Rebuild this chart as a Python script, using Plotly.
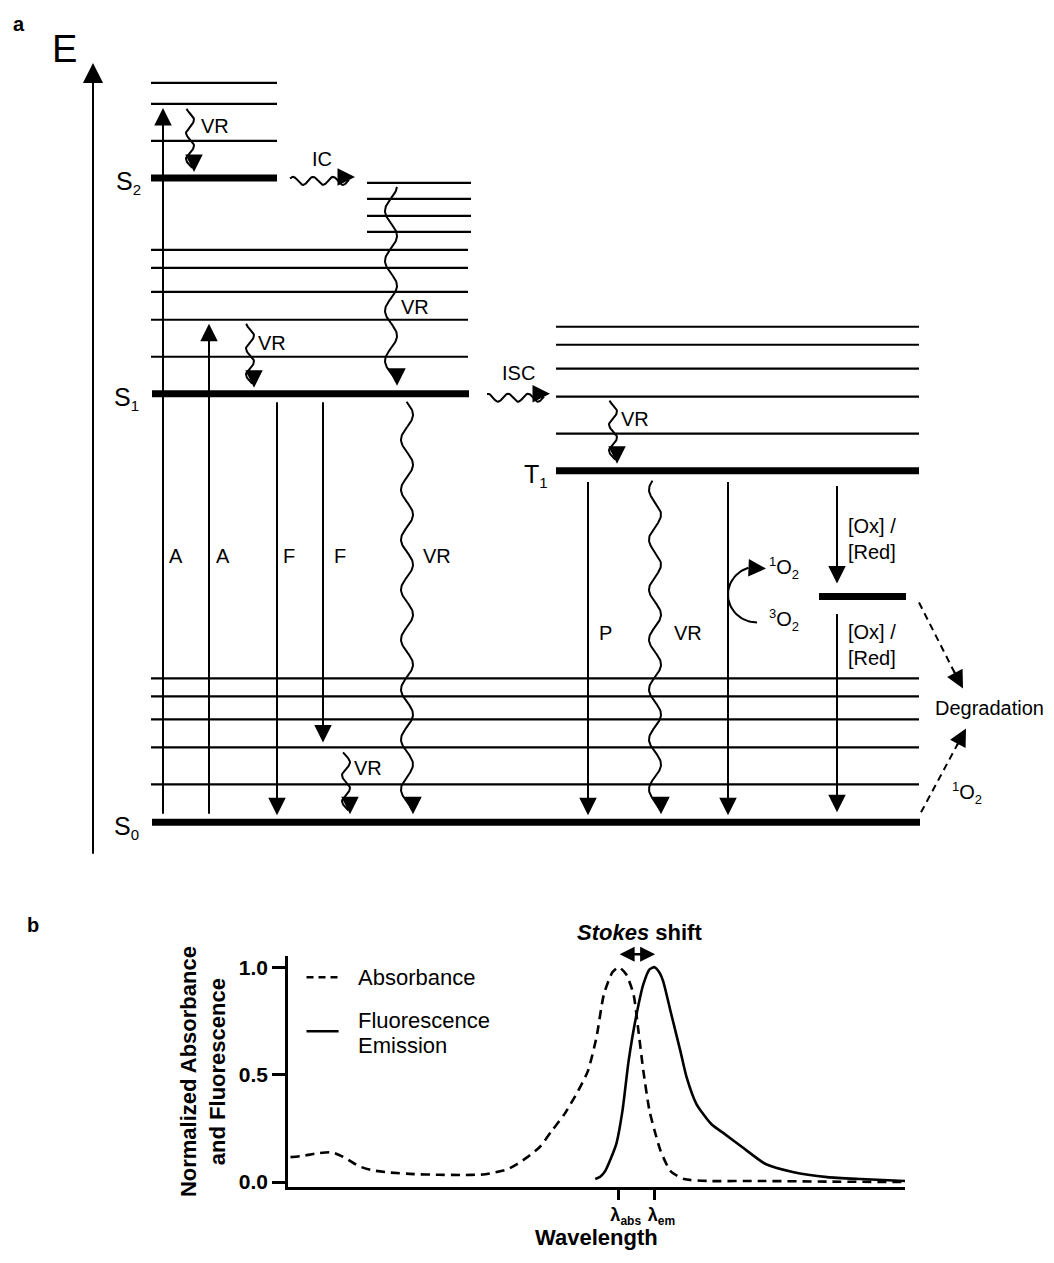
import numpy as np
import plotly.graph_objects as go

FONT = "Liberation Sans, Arial, Helvetica, sans-serif"

# ---------------- Panel a: energy levels (arbitrary energy units, S0 = 0) ----------------
state_labels = ["S", "S", "S", "T"]
state_sub = ["0", "1", "2", "1"]
state_E = [0.0, 42.9, 64.5, 35.2]
S0_vib = [3.8, 7.5, 10.3, 12.6, 14.4]
S1_vib = [46.6, 50.3, 53.1, 55.5, 57.3]
S1_hot = [59.1, 60.7, 62.4, 64.0]
S2_vib = [68.2, 71.9, 74.0]
T1_vib = [38.9, 42.6, 45.4, 47.8, 49.6]
product_E = 22.6

# ---------------- Panel b: normalized spectra ----------------
abs_wl = [252, 262, 272, 286, 297, 307, 318, 331, 352, 372, 390, 408, 418, 428, 436,
          444, 454, 464, 474, 485, 493, 500, 506, 513, 518, 524, 530, 534, 538, 543,
          548, 552, 560, 571, 590, 632, 687, 750]
abs_val = [0.116, 0.122, 0.132, 0.138, 0.11, 0.075, 0.055, 0.045, 0.037, 0.034, 0.033,
           0.035, 0.045, 0.06, 0.085, 0.116, 0.163, 0.24, 0.316, 0.423, 0.516, 0.674,
           0.874, 0.977, 1.0, 0.967, 0.874, 0.702, 0.516, 0.33, 0.22, 0.144, 0.051,
           0.014, 0.005, 0.005, 0.002, 0.0]
fl_wl = [499, 503, 507, 516, 521, 526, 532, 538, 543, 547, 551, 554, 560, 568, 573,
         581, 593, 604, 618, 637, 659, 687, 714, 750]
fl_val = [0.014, 0.025, 0.051, 0.177, 0.33, 0.563, 0.767, 0.921, 0.99, 1.0, 0.975,
          0.935, 0.795, 0.609, 0.488, 0.363, 0.27, 0.223, 0.163, 0.084, 0.047, 0.023,
          0.014, 0.005]
lambda_ticks = [518, 547]
lambda_text = ['λ<sub><span style="font-size:12px">abs</span></sub>',
               'λ<sub><span style="font-size:12px">em</span></sub>']
ytick_vals = [0.0, 0.5, 1.0]
ytick_text = ["0.0", "0.5", "1.0"]

# ---------------- layout geometry ----------------
PAGE_W, PAGE_H = 1054, 1263
OFF = 8                                  # default page margin around the figure
W, H = PAGE_W - 2 * OFF, PAGE_H - 2 * OFF
KY = 1269 / 1263                          # vertical compensation of the page capture
A_BOTTOM = 880                           # picture y where panel a area ends
PX_PER_E = 10
S0_PY = 822                              # target y of the S0 level
B_UP = 6                                 # lift of panel b to leave room for the x title


def ey(py):                 # target picture y -> energy units
    return (S0_PY - py) / PX_PER_E


E_TOP = (S0_PY - OFF / KY) / PX_PER_E
E_BOT = (S0_PY - A_BOTTOM / KY) / PX_PER_E


def fy(py):                 # target picture y -> paper fraction
    return 1 - (py * KY - OFF) / H


def fx(px):                 # picture x -> paper fraction
    return (px - OFF) / W


COL_S0 = (151, 919)
COL_S1 = (151, 468)
COL_S2 = (151, 277)
COL_HOT = (367, 471)
COL_T1 = (556, 919)
COL_P = (819, 906)

fig = go.Figure()
annotations = []
HEAD, HEADSIZE = 2, 1.75


def levels(col, energies, width):
    xs, ys = [], []
    for e in energies:
        xs += [col[0], col[1], None]
        ys += [e, e, None]
    fig.add_trace(go.Scatter(x=xs, y=ys, mode="lines", line=dict(color="black", width=width),
                             showlegend=False, hoverinfo="skip", xaxis="x", yaxis="y"))


def arrow(x0, e0, x1, e1, width=2, size=HEADSIZE, head=HEAD):
    annotations.append(dict(x=x1, y=e1, ax=x0, ay=e0, xref="x", yref="y", axref="x", ayref="y",
                            text="", showarrow=True, arrowhead=head, arrowsize=size,
                            arrowwidth=width, arrowcolor="black", standoff=0, startstandoff=0))


def line(xs, es, width=2, dash=None):
    fig.add_trace(go.Scatter(x=list(xs), y=list(es), mode="lines",
                             line=dict(color="black", width=width, dash=dash),
                             showlegend=False, hoverinfo="skip", xaxis="x", yaxis="y"))


def wavy_v(x0, e0, e1, amp=6, period=50):
    L = abs(e1 - e0) * PX_PER_E
    t = np.linspace(0, L, max(int(L), 30))
    phase = np.pi / 2 - 2 * np.pi * L / period
    xs = x0 + amp * np.sin(2 * np.pi * t / period + phase)
    es = e0 + (e1 - e0) * t / L
    line(xs[:-4], es[:-4])
    sgn = 1 if e1 < e0 else -1
    arrow(xs[-1], es[-1] + sgn * 1.6, xs[-1], es[-1])


def wavy_h(x0, x1, e, amp=4, period=20):
    L = abs(x1 - x0)
    t = np.linspace(0, L, max(int(L), 30))
    phase = np.pi / 2 - 2 * np.pi * L / period
    xs = x0 + t
    es = e + (amp / PX_PER_E) * np.sin(2 * np.pi * t / period + phase)
    line(xs[:-4], es[:-4])
    arrow(xs[-1] - 16, es[-1], xs[-1] + 2, es[-1])


def label(x, py, text, size=20, xanchor="center", align="center"):
    annotations.append(dict(x=x, y=ey(py), xref="x", yref="y", text=text, showarrow=False,
                            font=dict(size=size, color="black", family=FONT),
                            xanchor=xanchor, yanchor="middle", align=align))


def small(t, size=13):
    return '<span style="font-size:%dpx">%s</span>' % (size, t)


O2_1 = "<sup>" + small("1") + "</sup>O<sub>" + small("2") + "</sub>"
O2_3 = "<sup>" + small("3") + "</sup>O<sub>" + small("2") + "</sub>"

S0, S1, S2, T1 = state_E

# vibrational (thin) and electronic (thick) levels
levels(COL_S0, S0_vib, 2.2)
levels(COL_S1, S1_vib, 2.2)
levels(COL_HOT, S1_hot, 2.2)
levels(COL_S2, S2_vib, 2.2)
levels(COL_T1, T1_vib, 2.2)
levels((COL_S0[0] + 1, COL_S0[1] + 1), [S0], 7)
levels((COL_S1[0] + 1, COL_S1[1] + 1), [S1], 7)
levels(COL_S2, [S2], 7)
levels(COL_T1, [T1], 7)
levels(COL_P, [product_E], 7)

# energy axis
arrow(93, ey(855), 93, ey(62), width=2, size=HEADSIZE * 1.15)

# absorption
arrow(163, S0 + 0.7, 163, S2_vib[1] - 0.4)
arrow(209, S0 + 0.7, 209, S1_vib[1] - 0.4)
# fluorescence
arrow(277, S1 - 0.7, 277, S0 + 0.7)
arrow(323, S1 - 0.7, 323, S0_vib[1] + 0.5)
# phosphorescence and O2 sensitisation
arrow(588, T1 - 1.0, 588, S0 + 0.7)
arrow(728, T1 - 1.0, 728, S0 + 0.7)
# redox
arrow(837, T1 - 1.4, 837, product_E + 1.3)
arrow(837, product_E - 1.6, 837, S0 + 1.0)

# non-radiative (wavy) processes
wavy_v(190, S2_vib[1] - 0.5, S2 + 0.6, amp=4, period=26)
wavy_h(290, 353, S2 - 0.3, amp=4, period=20)
wavy_v(391, S1_hot[-1] - 0.4, S1 + 0.8, amp=6, period=50)
wavy_v(250, S1_vib[1] - 0.4, S1 + 0.6, amp=4, period=26)
wavy_h(487, 548, S1 - 0.4, amp=4, period=20)
wavy_v(613, T1_vib[1] - 0.4, T1 + 0.7, amp=4, period=26)
wavy_v(407, S1 - 0.8, S0 + 0.8, amp=6, period=50)
wavy_v(655, T1 - 1.0, S0 + 0.8, amp=6, period=50)
wavy_v(346, S0_vib[1] - 0.5, S0 + 0.8, amp=4, period=26)

# curved arrow 3O2 -> 1O2
th = np.linspace(np.pi / 2, -np.pi / 2 + 0.3, 40)
arc_x = 757 - 29 * np.cos(th)
arc_py = 594 + 28 * np.sin(th)
line(arc_x, [ey(p) for p in arc_py])
arrow(arc_x[-1], ey(arc_py[-1]), 766, ey(568))

# degradation (dashed)
line([919, 956], [ey(602), ey(675)], width=2, dash="7px,5px")
arrow(953, ey(669), 963, ey(688))
line([921, 958], [S0 + 1.0, ey(743)], width=2, dash="7px,5px")
arrow(956, ey(747), 966, ey(728))

# labels
annotations.append(dict(x=fx(19), y=fy(23), xref="paper", yref="paper", text="<b>a</b>",
                        showarrow=False, xanchor="center", yanchor="middle",
                        font=dict(size=20, family=FONT, color="black")))
annotations.append(dict(x=fx(33), y=fy(925), xref="paper", yref="paper", text="<b>b</b>",
                        showarrow=False, xanchor="center", yanchor="middle",
                        font=dict(size=20, family=FONT, color="black")))
label(64, 48, "E", size=38)
for name, sub, e, lx in zip(state_labels, state_sub, state_E, [126, 126, 128, 536]):
    annotations.append(dict(x=lx, y=e - 0.5, xref="x", yref="y",
                            text=name + "<sub>" + small(sub, 15) + "</sub>", showarrow=False,
                            font=dict(size=25, family=FONT, color="black"),
                            xanchor="center", yanchor="middle"))
for x, py, t in [(215, 125, "VR"), (272, 342, "VR"), (415, 306, "VR"), (322, 158, "IC"),
                 (518, 372, "ISC"), (635, 418, "VR"), (176, 555, "A"), (223, 555, "A"),
                 (289, 555, "F"), (340, 555, "F"), (437, 555, "VR"), (605, 633, "P"),
                 (688, 633, "VR"), (368, 768, "VR"), (967, 793, O2_1)]:
    label(x, py, t)
label(989, 708, "Degradation", size=20)
label(846, 538, "[Ox] /<br>[Red]", xanchor="left", align="left")
label(846, 645, "[Ox] /<br>[Red]", xanchor="left", align="left")
label(767, 567, O2_1, xanchor="left")
label(767, 620, O2_3, xanchor="left")

# ---------------- panel b traces ----------------
fig.add_trace(go.Scatter(x=abs_wl, y=abs_val, mode="lines", name="Absorbance",
                         line=dict(color="black", width=2.6, dash="9px,6px", shape="spline", smoothing=0.6),
                         showlegend=False, xaxis="x2", yaxis="y2"))
fig.add_trace(go.Scatter(x=fl_wl, y=fl_val, mode="lines", name="Fluorescence Emission",
                         line=dict(color="black", width=2.6, shape="spline", smoothing=0.6),
                         showlegend=False, xaxis="x2", yaxis="y2"))
# manual legend
fig.add_trace(go.Scatter(x=[265, 291], y=[0.953, 0.953], mode="lines",
                         line=dict(color="black", width=2.6, dash="7px,5px"),
                         showlegend=False, hoverinfo="skip", xaxis="x2", yaxis="y2"))
fig.add_trace(go.Scatter(x=[265, 291], y=[0.702, 0.702], mode="lines",
                         line=dict(color="black", width=2.6),
                         showlegend=False, hoverinfo="skip", xaxis="x2", yaxis="y2"))
for txt, yv in [("Absorbance", 0.953), ("Fluorescence", 0.753), ("Emission", 0.637)]:
    annotations.append(dict(x=305, y=yv, xref="x2", yref="y2", text=txt, showarrow=False,
                            xanchor="left", yanchor="middle",
                            font=dict(size=22, family=FONT, color="black")))
# Stokes shift (above the plot area -> y in paper units)
annotations.append(dict(x=lambda_ticks[1] + 0.5, y=fy(960 - B_UP), ax=lambda_ticks[0] - 0.5, ay=0,
                        xref="x2", yref="paper", axref="x2", ayref="pixel", text="", showarrow=True,
                        arrowhead=2, arrowside="end+start", arrowsize=1.2, arrowwidth=2.5,
                        arrowcolor="black", standoff=0, startstandoff=0))
annotations.append(dict(x=(lambda_ticks[0] + lambda_ticks[1]) / 2 + 2, y=fy(938 - B_UP), xref="x2",
                        yref="paper", text="<b><i>Stokes</i> shift</b>", showarrow=False,
                        xanchor="center", yanchor="middle",
                        font=dict(size=22, family=FONT, color="black")))
# x-axis title placed at the very bottom of the figure
annotations.append(dict(x=0.5, y=0, xref="x2 domain", yref="paper", text="<b>Wavelength</b>",
                        showarrow=False, xanchor="center", yanchor="bottom", yshift=-3,
                        font=dict(size=22, family=FONT, color="black")))

fig.update_layout(
    width=W, height=H, margin=dict(l=0, r=0, t=0, b=0),
    paper_bgcolor="white", plot_bgcolor="white", showlegend=False,
    font=dict(family=FONT, color="black"),
    xaxis=dict(domain=[0, 1], range=[OFF, OFF + W], visible=False, fixedrange=True),
    yaxis=dict(domain=[fy(A_BOTTOM / KY), 1], range=[E_BOT, E_TOP], visible=False, fixedrange=True),
    xaxis2=dict(domain=[fx(288), fx(905)], range=[250, 750], anchor="y2",
                showline=True, linewidth=2.6, linecolor="black", showgrid=False, zeroline=False,
                ticks="outside", ticklen=10, tickwidth=2.6, tickcolor="black",
                tickmode="array", tickvals=lambda_ticks, ticktext=lambda_text, ticklabelshift=7,
                tickangle=0, ticklabelstandoff=0,
                tickfont=dict(size=18, family=FONT, color="black", weight="bold")),
    yaxis2=dict(domain=[fy(1193 - B_UP), fy(962 - B_UP)], range=[-0.023, 1.051], anchor="x2",
                showline=True, linewidth=2.6, linecolor="black", showgrid=False, zeroline=False,
                ticks="outside", ticklen=13, tickwidth=2.6, tickcolor="black",
                tickmode="array", tickvals=ytick_vals, ticktext=ytick_text,
                tickfont=dict(size=21, family=FONT, color="black", weight="bold"),
                title=dict(text="<b>Normalized Absorbance<br>and Fluorescence</b>", standoff=8,
                           font=dict(size=22, family=FONT, color="black"))),
    annotations=annotations,
)

fig.write_html("out.html", config={"displayModeBar": False})
